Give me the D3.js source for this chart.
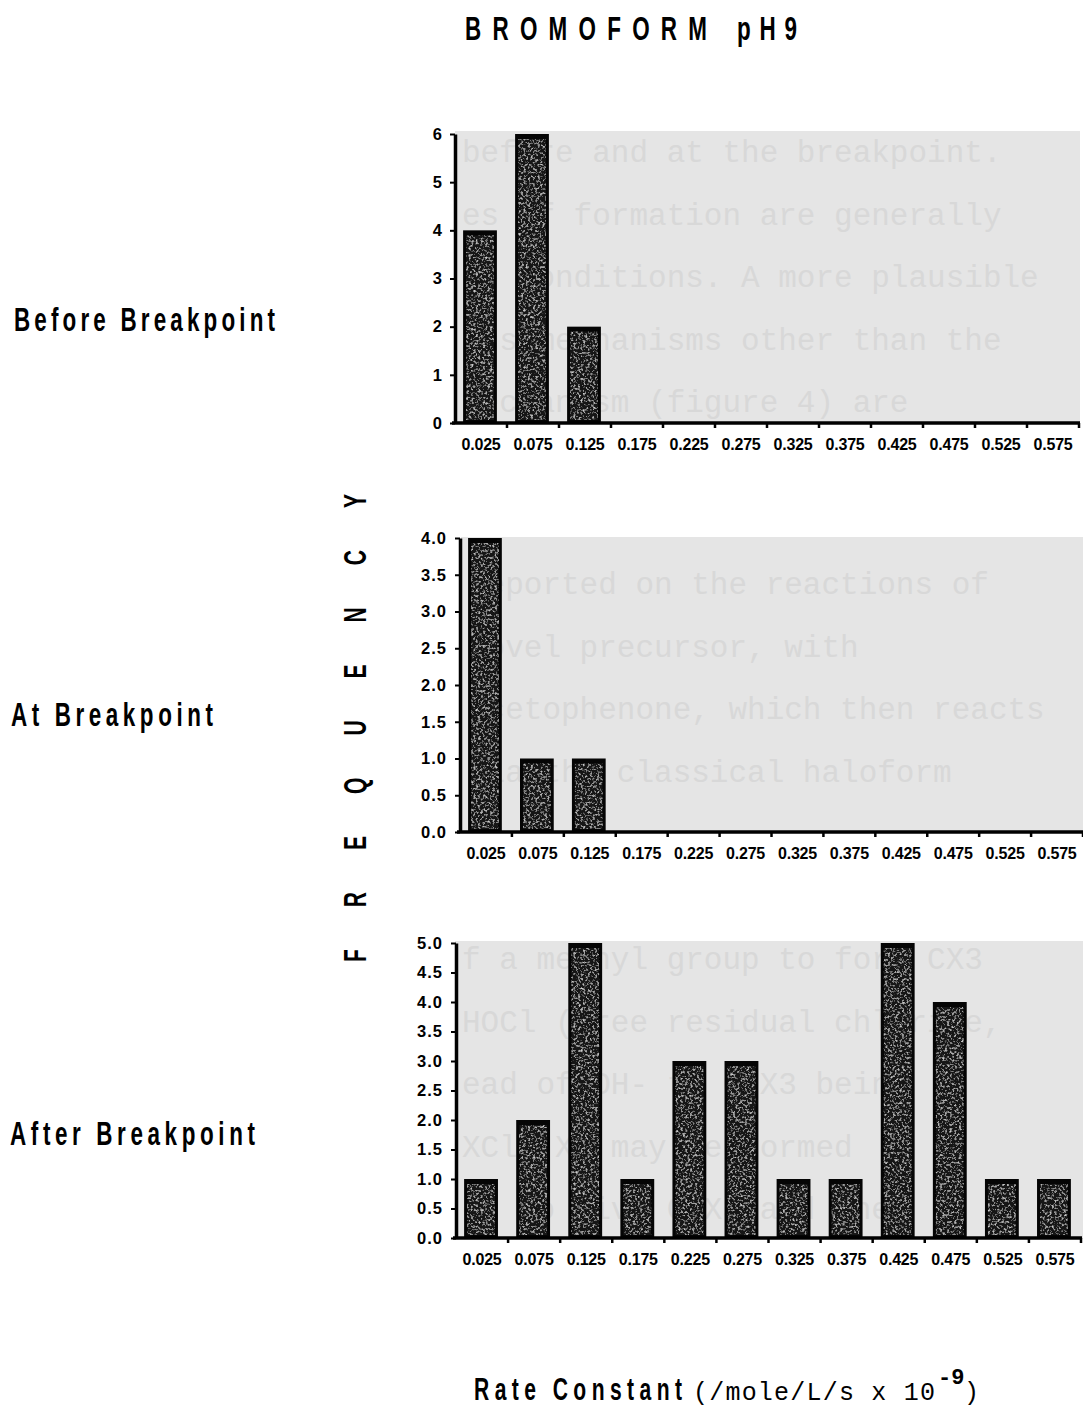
<!DOCTYPE html>
<html>
<head>
<meta charset="utf-8">
<script src="https://cdn.jsdelivr.net/npm/d3@7"></script>
<style>
  body { margin: 0; background: #fff; }
  svg { display: block; }
  .narrow { font-family: "Liberation Sans", Arial, sans-serif; font-weight: bold; }
  .tick text { font-family: "Liberation Sans", Arial, sans-serif; font-weight: bold; fill: #000; }
</style>
</head>
<body>
<script>
// rate constant bins (x 10^-9 /mole/L/s)
const rateBins = ["0.025", "0.075", "0.125", "0.175", "0.225", "0.275",
                  "0.325", "0.375", "0.425", "0.475", "0.525", "0.575"];

// frequency per bin
const beforeCounts = [4, 6, 2, 0, 0, 0, 0, 0, 0, 0, 0, 0];
const atCounts     = [4, 1, 1, 0, 0, 0, 0, 0, 0, 0, 0, 0];
const afterCounts  = [1, 2, 5, 1, 3, 3, 1, 1, 5, 4, 1, 1];

const beforeTicks = [0, 1, 2, 3, 4, 5, 6];
const atTicks     = [0, 0.5, 1, 1.5, 2, 2.5, 3, 3.5, 4];
const afterTicks  = [0, 0.5, 1, 1.5, 2, 2.5, 3, 3.5, 4, 4.5, 5];

const panelNames = ["Before Breakpoint", "At Breakpoint", "After Breakpoint"];

// bleed-through typewriter text visible behind each plot
const ghostBefore = ["before and at the breakpoint.", "es of formation are generally",
  "se conditions.  A more plausible", "ous mechanisms other than the", "mechanism (figure 4) are"];
const ghostAt = ["reported on the reactions of", "novel precursor, with",
  "acetophenone, which then reacts", "via the classical haloform"];
const ghostAfter = ["f a methyl group to form CX3", "HOCl (free residual chlorine,",
  "ead of OH- to CHX3 being", "XCl, X- may be formed", "ed to give CHX3 and the"];

const W = 1083, H = 1407;
const svg = d3.select("body").append("svg").attr("width", W).attr("height", H);

// grainy fill for the photocopied bars
const defs = svg.append("defs");
const grain = defs.append("filter").attr("id", "grain")
  .attr("x", 0).attr("y", 0).attr("width", 1).attr("height", 1);
grain.append("feTurbulence").attr("type", "fractalNoise")
  .attr("baseFrequency", 0.42).attr("numOctaves", 3).attr("seed", 7).attr("result", "n");
grain.append("feColorMatrix").attr("in", "n").attr("type", "matrix")
  .attr("values", "0 0 0 0 0.6  0 0 0 0 0.6  0 0 0 0 0.6  3.0 0 0 0 -1.55")
  .attr("result", "speck");
grain.append("feComposite").attr("in", "speck").attr("in2", "SourceGraphic")
  .attr("operator", "in").attr("result", "s2");
const gm = grain.append("feMerge");
gm.append("feMergeNode").attr("in", "SourceGraphic");
gm.append("feMergeNode").attr("in", "s2");

const panels = [
  { counts: beforeCounts, ticks: beforeTicks, fmt: d3.format("d"), ghost: ghostBefore,
    left: 455, right: 1079, top: 134, bottom: 423, bgLeft: 455, bgRight: 1080, bgTop: 131, bgBottom: 424,
    nameX: 14, nameY: 331, nameW: 261, ghostY0: 162 },
  { counts: atCounts, ticks: atTicks, fmt: d3.format(".1f"), ghost: ghostAt,
    left: 460, right: 1083, top: 538, bottom: 832, bgLeft: 461, bgRight: 1083, bgTop: 537, bgBottom: 833,
    nameX: 11, nameY: 726, nameW: 202, ghostY0: 594 },
  { counts: afterCounts, ticks: afterTicks, fmt: d3.format(".1f"), ghost: ghostAfter,
    left: 456, right: 1081, top: 943, bottom: 1238, bgLeft: 455, bgRight: 1083, bgTop: 941, bgBottom: 1239,
    nameX: 10, nameY: 1145, nameW: 245, ghostY0: 969 }
];

// tall narrow heading text: squeeze glyphs horizontally, then space to width
function narrowText(x, y, size, width, str, rotate) {
  const sx = 0.68;
  const t = svg.append("text").attr("class", "narrow")
    .attr("transform", `translate(${x},${y})` + (rotate ? " rotate(-90)" : "") + ` scale(${sx},1)`)
    .attr("font-size", size)
    .attr("textLength", width / sx).attr("lengthAdjust", "spacing")
    .text(str);
  return t;
}

panels.forEach((p, i) => {
  const g = svg.append("g").attr("class", "panel");
  const x = d3.scaleBand().domain(rateBins).range([p.left, p.right]);
  const y = d3.scaleLinear().domain([0, d3.max(p.ticks)]).range([p.bottom, p.top]);

  // gray paper area
  const clipId = "clip" + i;
  defs.append("clipPath").attr("id", clipId).append("rect")
    .attr("x", p.bgLeft).attr("y", p.bgTop)
    .attr("width", p.bgRight - p.bgLeft).attr("height", p.bgBottom - p.bgTop);
  g.append("rect")
    .attr("x", p.bgLeft).attr("y", p.bgTop)
    .attr("width", p.bgRight - p.bgLeft).attr("height", p.bgBottom - p.bgTop)
    .attr("fill", "#e5e5e5");
  g.append("g").attr("clip-path", `url(#${clipId})`)
    .selectAll("text").data(p.ghost).join("text")
    .attr("x", p.bgLeft + 7)
    .attr("y", (d, k) => p.ghostY0 + k * 62.5)
    .attr("font-family", "'Liberation Mono', 'DejaVu Sans Mono', monospace")
    .attr("font-size", 31)
    .attr("fill", "#d8d8d8")
    .text(d => d);

  // bars
  const bw = x.bandwidth() * 0.65;
  const bars = g.append("g").selectAll("g")
    .data(p.counts.map((c, k) => ({ bin: rateBins[k], c })).filter(d => d.c > 0))
    .join("g");
  bars.append("rect")
    .attr("x", d => x(d.bin) + (x.bandwidth() - bw) / 2 - 1)
    .attr("y", d => y(d.c))
    .attr("width", bw)
    .attr("height", d => y(0) - y(d.c))
    .attr("fill", "#050505");
  bars.append("rect")
    .attr("x", d => x(d.bin) + (x.bandwidth() - bw) / 2 + 2)
    .attr("y", d => y(d.c) + 5)
    .attr("width", bw - 6)
    .attr("height", d => Math.max(0, y(0) - y(d.c) - 8))
    .attr("fill", "#141414")
    .attr("filter", "url(#grain)");

  // y axis
  const ya = g.append("g").attr("transform", `translate(${p.left},0)`)
    .call(d3.axisLeft(y).tickValues(p.ticks).tickFormat(p.fmt).tickSize(5).tickSizeOuter(0).tickPadding(8));
  ya.select(".domain").attr("stroke", "#000").attr("stroke-width", 3.5);
  ya.selectAll(".tick line").attr("stroke", "#000").attr("stroke-width", 2);
  ya.selectAll(".tick text").attr("font-size", 16.5).attr("letter-spacing", i === 0 ? 0 : 1);

  // baseline with ticks at bin boundaries
  g.append("line")
    .attr("x1", p.left - 3).attr("x2", p.right + 1)
    .attr("y1", y(0)).attr("y2", y(0))
    .attr("stroke", "#000").attr("stroke-width", 3.5);
  g.append("g").selectAll("line").data(rateBins.slice(1).map(b => x(b)).concat([p.right]))
    .join("line")
    .attr("x1", d => d).attr("x2", d => d)
    .attr("y1", y(0)).attr("y2", y(0) + 5)
    .attr("stroke", "#000").attr("stroke-width", 2.5);

  // bin labels
  const xa = g.append("g").attr("transform", `translate(0,${y(0)})`)
    .call(d3.axisBottom(x).tickSize(0).tickPadding(16));
  xa.select(".domain").remove();
  xa.selectAll(".tick text").attr("font-size", 16).attr("letter-spacing", -0.2);

  // panel name on the left
  narrowText(p.nameX, p.nameY, 33, p.nameW, panelNames[i], false);
});

// title
narrowText(465, 40, 33, 242, "BROMOFORM", false);
narrowText(737, 40, 33, 60, "pH9", false);

// y title
narrowText(366, 962, 31, 468, "FREQUENCY", true);

// x title
narrowText(474, 1400, 31, 208, "Rate Constant", false);
svg.append("text")
  .attr("x", 693).attr("y", 1400)
  .attr("font-family", "'Liberation Mono', 'DejaVu Sans Mono', monospace")
  .attr("font-size", 25)
  .attr("textLength", 242).attr("lengthAdjust", "spacing")
  .text("(/mole/L/s x 10");
svg.append("text")
  .attr("x", 938).attr("y", 1384)
  .attr("font-family", "'Liberation Mono', 'DejaVu Sans Mono', monospace")
  .attr("font-size", 22).attr("font-weight", "bold")
  .text("-9");
svg.append("text")
  .attr("x", 964).attr("y", 1400)
  .attr("font-family", "'Liberation Mono', 'DejaVu Sans Mono', monospace")
  .attr("font-size", 25)
  .text(")");
</script>
</body>
</html>
